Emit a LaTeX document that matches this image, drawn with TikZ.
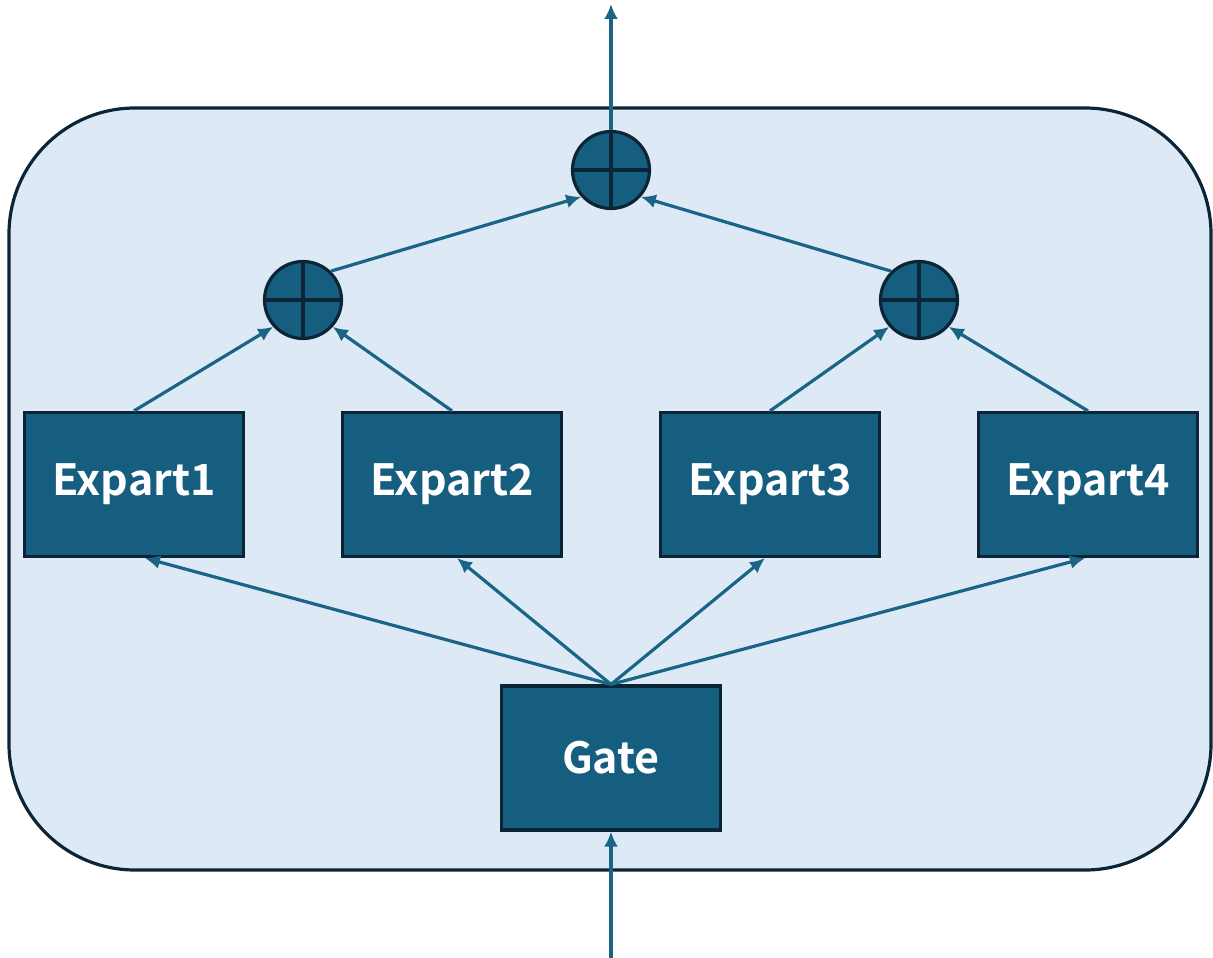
\documentclass[tikz,border=0pt]{standalone}
\usepackage{fontspec}
\newfontfamily\labelfont{Noto Sans CJK JP}[BoldFont={* Bold}]
\usetikzlibrary{arrows.meta}
\definecolor{boxfill}{HTML}{165E80}
\definecolor{edgedark}{HTML}{0C2536}
\definecolor{arrowcol}{HTML}{1A6485}
\definecolor{bgfill}{HTML}{DDEAF6}
\tikzset{
  expbox/.style={draw=edgedark, fill=boxfill, line width=3.2pt, minimum width=219pt, minimum height=144pt, inner sep=0pt, text=white, font=\labelfont\bfseries\fontsize{43}{48}\selectfont},
  sumnode/.style={circle, draw=edgedark, fill=boxfill, line width=3.2pt, minimum size=77pt, inner sep=0pt},
  conn/.style={draw=arrowcol, line width=3.2pt, -{Latex[length=15pt,width=14pt]}},
}
\begin{document}
\begin{tikzpicture}[x=1pt,y=-1pt]
\useasboundingbox (0,0) rectangle (1213,958);
\draw[draw=edgedark, fill=bgfill, line width=3.2pt, rounded corners=126pt] (9,108) rectangle (1211,870);
\node[expbox] (e1) at (134,484.5) {Expart1};
\node[expbox] (e2) at (452,484.5) {Expart2};
\node[expbox] (e3) at (770,484.5) {Expart3};
\node[expbox] (e4) at (1088,484.5) {Expart4};
\node[expbox] (g) at (611,758) {Gate};
\node[sumnode] (c0) at (611,170) {};
\node[sumnode] (c1) at (303,300) {};
\node[sumnode] (c2) at (919,300) {};
\foreach \c in {c0,c1,c2}{
  \draw[edgedark, line width=3.2pt] (\c.north) -- (\c.south);
  \draw[edgedark, line width=3.2pt] (\c.west) -- (\c.east);
}
\coordinate (inp) at (611,958);
\coordinate (outp) at (611,4);
\draw[conn] (inp) -- (g.south);
\draw[conn] (c0.north) -- (outp);
\draw[conn] (g.north) -- ([xshift=11pt]e1.south);
\draw[conn] (g.north) -- ([xshift=5pt]e2.south);
\draw[conn] (g.north) -- ([xshift=-5pt]e3.south);
\draw[conn] (g.north) -- ([xshift=-3pt]e4.south);
\draw[conn] (e1.north) -- (c1.222);
\draw[conn] (e2.north) -- (c1.318);
\draw[conn] (e3.north) -- (c2.222);
\draw[conn] (e4.north) -- (c2.318);
\draw[conn] (c1.46) -- (c0.222);
\draw[conn] (c2.134) -- (c0.318);
\end{tikzpicture}
\end{document}
